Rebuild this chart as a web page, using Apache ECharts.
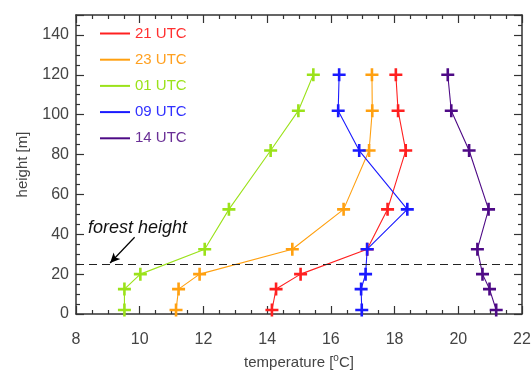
<!DOCTYPE html>
<html>
<head>
<meta charset="utf-8">
<script src="https://cdn.jsdelivr.net/npm/echarts@6/dist/echarts.min.js"></script>
<style>
  html, body { margin: 0; padding: 0; background: #fff; }
  #chart { width: 532px; height: 370px; }
</style>
</head>
<body>
<div id="chart"></div>
<script>
// Measurement heights (m) shared by every profile
const heights = [2, 12.5, 20, 32.5, 52.5, 82, 102, 120];

// Temperature profiles (°C) at each height
const t21 = [14.15, 14.28, 15.05, 17.14, 17.78, 18.35, 18.11, 18.04];
const t23 = [11.14, 11.22, 11.88, 14.79, 16.40, 17.20, 17.30, 17.29];
const t01 = [9.52, 9.52, 10.02, 12.04, 12.80, 14.11, 14.98, 15.45];
const t09 = [16.97, 16.95, 17.09, 17.14, 18.40, 16.89, 16.23, 16.26];
const t14 = [21.19, 20.98, 20.76, 20.60, 20.95, 20.34, 19.78, 19.67];

const seriesNames = ['21 UTC', '23 UTC', '01 UTC', '09 UTC', '14 UTC'];
const seriesTemps = [t21, t23, t01, t09, t14];
const lineColors = ['#ff2020', '#ffa010', '#9be21a', '#1a1aff', '#4e0a86'];
const textColors = ['#ff3030', '#ffa020', '#9be21a', '#3030ff', '#6a3096'];

const forestHeight = 25;
const forestLabel = 'forest height';

const xMin = 8, xMax = 22;
const yMin = 0, yMax = 150;

const plusPath = 'path://M4,0H6V4H10V6H6V10H4V6H0V4H4Z';
const font = '"Liberation Sans", Arial, sans-serif';
const axisColor = '#333';

function makeSeries(i) {
  return {
    name: seriesNames[i],
    type: 'line',
    data: heights.map((h, k) => [seriesTemps[i][k], h]),
    symbol: plusPath,
    symbolSize: 13,
    showAllSymbol: true,
    lineStyle: { color: lineColors[i], width: 1.1 },
    itemStyle: { color: lineColors[i] },
    emphasis: { disabled: true },
    animation: false,
    z: 3
  };
}

const series = seriesNames.map((_, i) => makeSeries(i));

// Forest canopy reference line
series.push({
  type: 'line',
  data: [],
  animation: false,
  markLine: {
    silent: true,
    animation: false,
    symbol: ['none', 'none'],
    label: { show: false },
    lineStyle: { color: '#222', type: [8, 5], width: 1.2 },
    data: [{ yAxis: forestHeight }]
  }
});
// Pointer from the annotation down to the canopy line
series.push({
  type: 'line',
  data: [],
  animation: false,
  markLine: {
    silent: true,
    animation: false,
    symbol: ['none', 'arrow'],
    symbolSize: [7, 10],
    label: { show: false },
    lineStyle: { color: '#000', type: 'solid', width: 1.2 },
    data: [[{ coord: [9.84, 38.5] }, { coord: [9.07, forestHeight + 0.6] }]]
  }
});

const chart = echarts.init(document.getElementById('chart'), null, { renderer: 'canvas' });

const xAxisBase = {
  type: 'value', min: xMin, max: xMax, interval: 2,
  axisLine: { show: true, onZero: false, lineStyle: { color: axisColor, width: 1.5 } },
  axisTick: { show: true, inside: true, length: 8, lineStyle: { color: axisColor, width: 1.2 } },
  minorTick: { show: true, splitNumber: 4, length: 4, lineStyle: { color: axisColor, width: 1.2 } },
  splitLine: { show: false }
};
const yAxisBase = {
  type: 'value', min: yMin, max: yMax, interval: 20,
  axisLine: { show: true, onZero: false, lineStyle: { color: axisColor, width: 1.5 } },
  axisTick: { show: true, inside: true, length: 8, lineStyle: { color: axisColor, width: 1.2 } },
  minorTick: { show: true, splitNumber: 4, length: 4, lineStyle: { color: axisColor, width: 1.2 } },
  splitLine: { show: false }
};

chart.setOption({
  animation: false,
  backgroundColor: '#fff',
  grid: { left: 76, right: 10, top: 15, bottom: 56, containLabel: false, outerBoundsMode: 'none' },
  legend: {
    orient: 'vertical',
    left: 95,
    top: 21,
    itemWidth: 30,
    itemHeight: 2,
    itemGap: 11.2,
    icon: 'rect',
    selectedMode: false,
    textStyle: { fontFamily: font, fontSize: 15 },
    data: seriesNames.map((n, i) => ({
      name: n,
      itemStyle: { color: lineColors[i] },
      textStyle: { color: textColors[i] }
    }))
  },
  xAxis: [
    Object.assign({}, xAxisBase, {
      position: 'bottom',
      name: '{t|temperature [}{s|o}{t|C]}',
      nameLocation: 'middle',
      nameGap: 34,
      nameTextStyle: {
        rich: {
          t: { fontFamily: font, fontSize: 15, color: '#444' },
          s: { fontFamily: font, fontSize: 10, color: '#444', verticalAlign: 'top', padding: [0, 0, 9, 0] }
        }
      },
      axisLabel: { show: true, margin: 18, fontFamily: font, fontSize: 16, color: '#444' }
    }),
    Object.assign({}, xAxisBase, {
      position: 'top',
      axisLabel: { show: false }
    })
  ],
  yAxis: [
    Object.assign({}, yAxisBase, {
      position: 'left',
      name: 'height [m]',
      nameLocation: 'middle',
      nameGap: 46,
      nameTextStyle: { fontFamily: font, fontSize: 15, color: '#444' },
      axisLabel: { show: true, margin: 7, fontFamily: font, fontSize: 16, color: '#444', showMaxLabel: false }
    }),
    Object.assign({}, yAxisBase, {
      position: 'right',
      axisLabel: { show: false }
    })
  ],
  graphic: [{
    type: 'text',
    left: 88,
    top: 219,
    silent: true,
    style: {
      text: forestLabel,
      fontFamily: font,
      fontStyle: 'italic',
      fontSize: 18,
      fill: '#111'
    }
  }],
  series: series
});
</script>
</body>
</html>
